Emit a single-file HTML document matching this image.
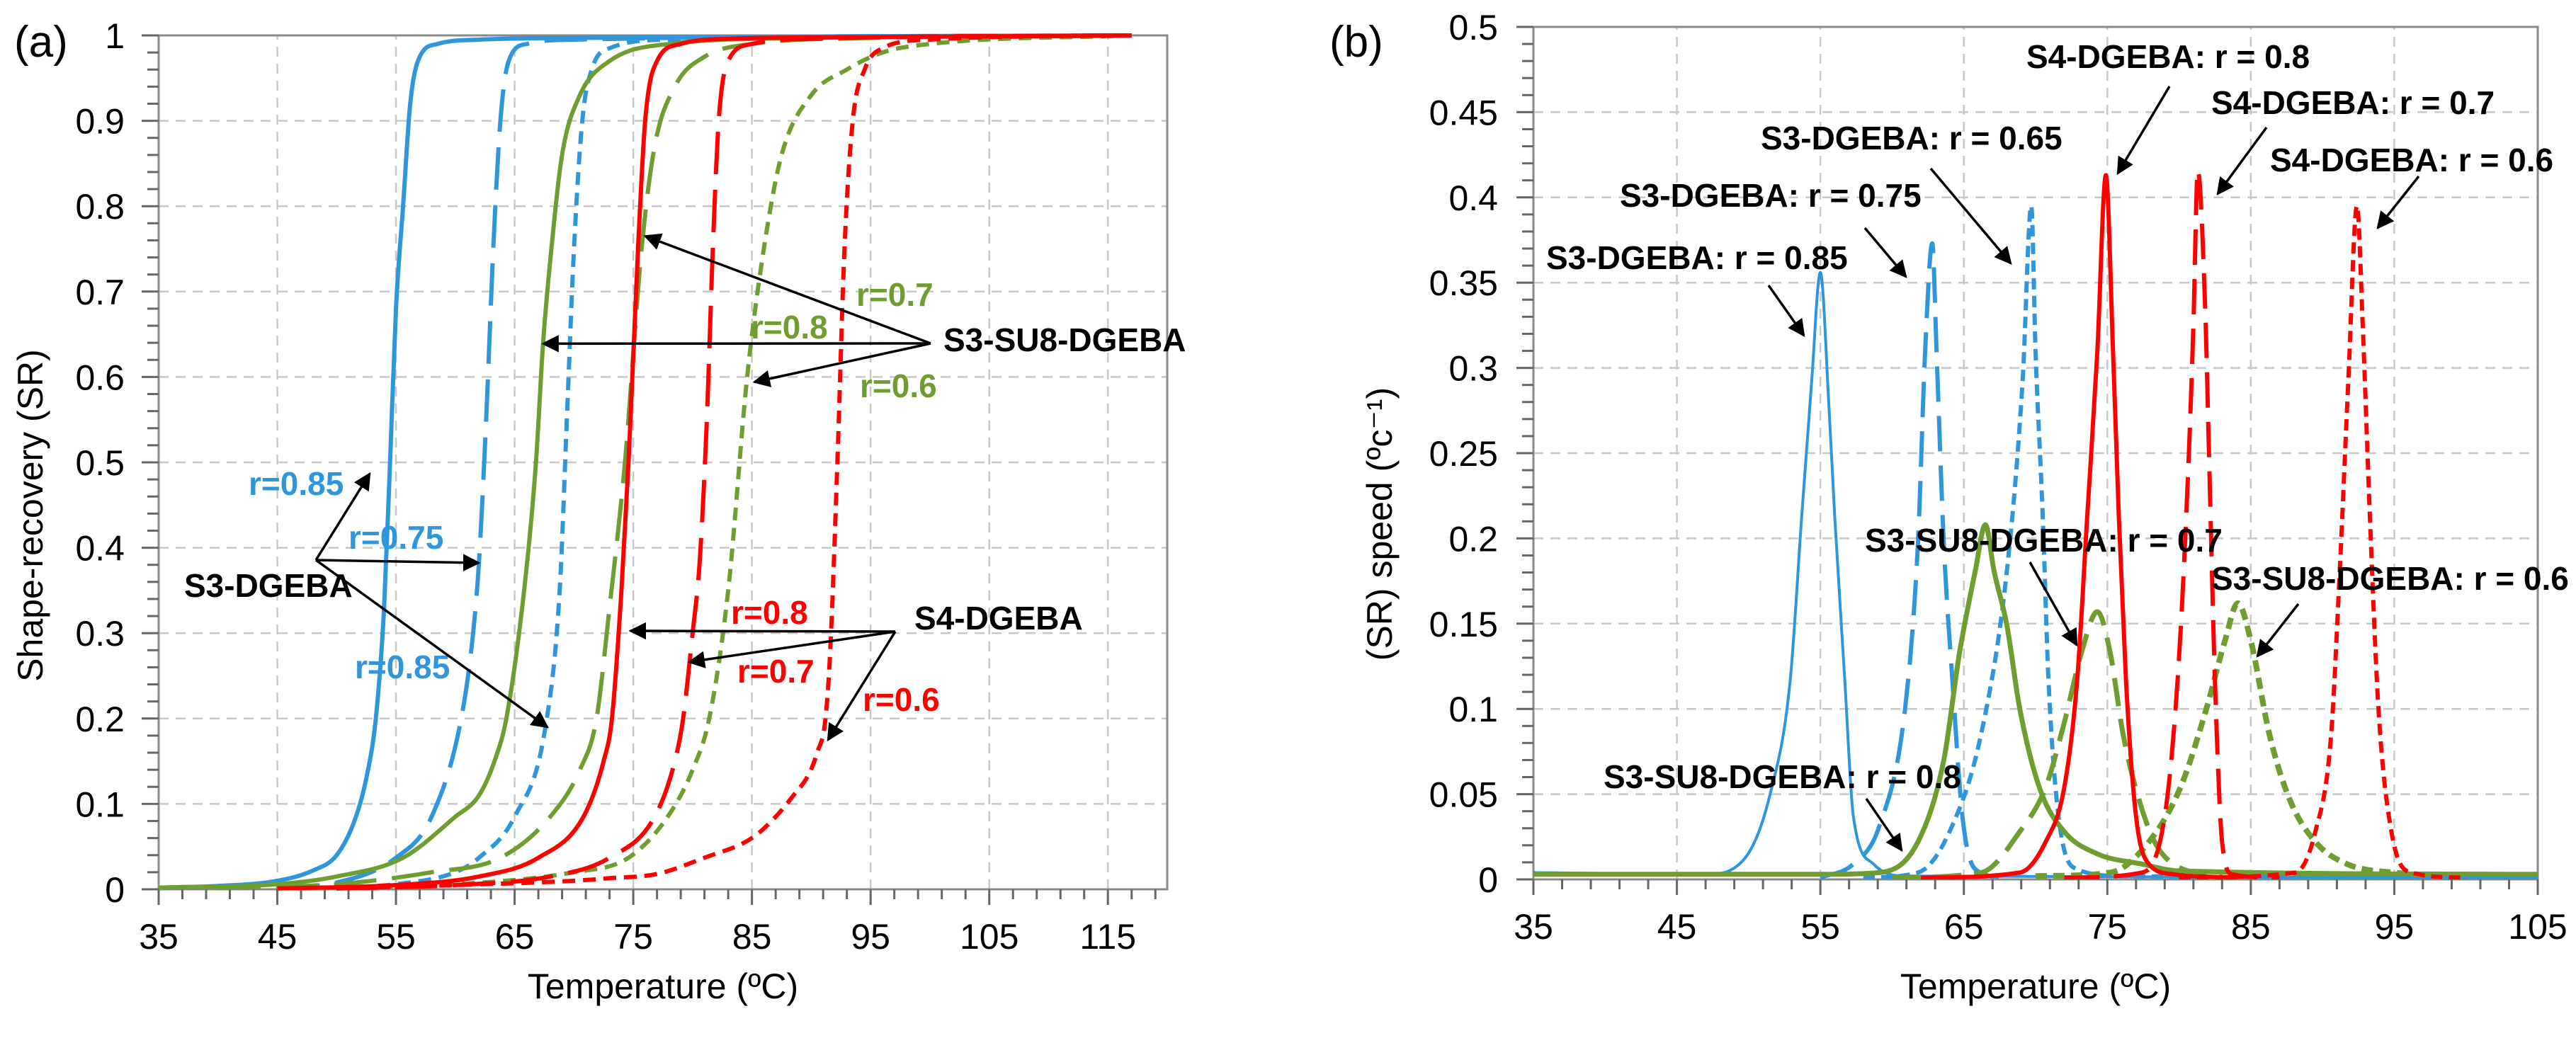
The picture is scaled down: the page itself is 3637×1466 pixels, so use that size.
<!DOCTYPE html>
<html><head><meta charset="utf-8"><style>
html,body{margin:0;padding:0;background:#fff;}
svg{display:block;font-family:"Liberation Sans",sans-serif;}
</style></head><body>
<svg id="fig" width="3637" height="1466" viewBox="0 0 3637 1466" xmlns="http://www.w3.org/2000/svg">
<defs><marker id="ah" viewBox="0 0 10 10" refX="9" refY="5" markerWidth="7" markerHeight="7" orient="auto-start-reverse"><path d="M0,0 L10,5 L0,10 z" fill="#000"/></marker></defs>
<g id="ga"></g>
<g id="gb"></g>
</svg>
<script>
// ---------- data: chart (a) shape recovery ----------
const aXTicks = [35,45,55,65,75,85,95,105,115];
const aYTicks = [0,0.1,0.2,0.3,0.4,0.5,0.6,0.7,0.8,0.9,1];
const aBlueSolidT = [35,40,45,48,50,51.5,52.5,53.3,54,54.5,55,55.6,56.2,57,58.5,62,70,117];
const aBlueSolidV = [0.002,0.004,0.01,0.022,0.04,0.08,0.13,0.2,0.33,0.5,0.68,0.8,0.92,0.975,0.99,0.995,0.997,1];
const aBlueLongT = [45,50,55,58,60.5,61.5,62,62.6,63.2,63.8,64.5,66,70,117];
const aBlueLongV = [0.002,0.008,0.037,0.085,0.2,0.3,0.384,0.55,0.75,0.9,0.97,0.99,0.995,1];
const aBlueShortT = [50,55,60,62,65,67.6,68.8,69.4,70,70.7,71.5,73,78,117];
const aBlueShortV = [0.002,0.006,0.02,0.037,0.085,0.19,0.35,0.55,0.75,0.9,0.96,0.985,0.995,1];
const aGreenSolidT = [35,45,50,55.6,60,62,63.3,64.3,65.8,66.8,67.4,68.1,69,70.5,73,78,90,117];
const aGreenSolidV = [0.002,0.006,0.015,0.037,0.085,0.11,0.15,0.2,0.35,0.5,0.64,0.75,0.86,0.93,0.97,0.99,0.997,1];
const aGreenLongT = [40,50,58,63.8,68,70.5,71.9,73,74.3,75.7,76.8,78.5,81,85,95,117];
const aGreenLongV = [0.002,0.006,0.02,0.037,0.085,0.14,0.2,0.33,0.5,0.75,0.87,0.94,0.975,0.99,0.997,1];
const aRedSolidT = [45,55,62,67,70.8,72.5,73.2,74,74.6,75.4,76,77,79,83,95,117];
const aRedSolidV = [0.001,0.005,0.015,0.037,0.085,0.15,0.2,0.35,0.5,0.75,0.9,0.97,0.99,0.996,0.998,1];
const aRedLongT = [50,60,68,73,76.8,78.5,79.2,80,80.6,81.2,81.7,82.2,83,85,90,117];
const aRedLongV = [0.001,0.005,0.015,0.037,0.085,0.15,0.2,0.3,0.384,0.55,0.75,0.9,0.97,0.99,0.996,1];
const aGreenShortT = [45,60,70,74.6,77.9,80,81.4,83,84.6,86,87.5,90,93,96,100,117];
const aGreenShortV = [0.001,0.006,0.02,0.037,0.085,0.14,0.2,0.35,0.6,0.75,0.86,0.93,0.96,0.98,0.99,1];
const aRedShortT = [50,60,70,73,77,81,85,87,88.5,89.8,90.5,91.2,91.6,92.2,92.8,93.5,94.5,96,100,117];
const aRedShortV = [0.001,0.005,0.01,0.013,0.018,0.037,0.06,0.085,0.11,0.135,0.16,0.2,0.28,0.5,0.75,0.9,0.96,0.985,0.995,1];

// ---------- data: chart (b) SR speed ----------
const bXTicks = [35,45,55,65,75,85,95,105];
const bYTicks = [0,0.05,0.1,0.15,0.2,0.25,0.3,0.35,0.4,0.45,0.5];
const bYTickLabels = ["0","0.05","0.1","0.15","0.2","0.25","0.3","0.35","0.4","0.45","0.5"];
const bBlueSolidT = [35,47,49.7,51.5,52.9,53.7,54.4,55,55.6,56,56.7,57.3,58.7,61,105];
const bBlueSolidV = [0.004,0.003,0.012,0.05,0.117,0.213,0.293,0.356,0.277,0.213,0.117,0.037,0.009,0.002,0.001];
const bBlueLongT = [55,57.3,59.1,60.9,61.8,62.3,62.8,63.1,63.6,64.2,64.9,65.8,68];
const bBlueLongV = [0.001,0.009,0.031,0.1,0.197,0.309,0.373,0.309,0.197,0.117,0.037,0.006,0.001];
const bBlueShortT = [58,61.8,64,66.2,68,69.1,69.7,70,70.5,70.9,71.6,72.9,76,98];
const bBlueShortV = [0.001,0.004,0.028,0.085,0.181,0.293,0.395,0.309,0.213,0.117,0.037,0.006,0.002,0.001];
const bRedSolidT = [62,68.9,70.7,72,72.9,73.6,74.3,74.9,75.4,75.8,76.3,77,77.9,79.6,84];
const bRedSolidV = [0.001,0.004,0.022,0.054,0.117,0.213,0.309,0.413,0.309,0.213,0.117,0.037,0.009,0.003,0.001];
const bRedLongT = [72,77.4,79,79.9,80.5,81,81.3,81.8,82.1,82.5,83,83.7,87];
const bRedLongV = [0.001,0.004,0.037,0.117,0.213,0.325,0.416,0.34,0.245,0.117,0.022,0.003,0.001];
const bRedShortT = [80,88.1,89.5,90.6,91.2,91.8,92.4,92.8,93.3,93.9,94.8,96.2,100];
const bRedShortV = [0.001,0.004,0.028,0.085,0.181,0.293,0.395,0.325,0.213,0.1,0.028,0.004,0.001];
const bGreenSolidT = [35,55,59.1,61.8,63.6,64.7,65.8,66.5,67.1,68,68.9,70.3,72,74.3,77.4,80,105];
const bGreenSolidV = [0.003,0.003,0.004,0.022,0.07,0.133,0.181,0.208,0.181,0.149,0.1,0.053,0.028,0.015,0.009,0.005,0.003];
const bGreenLongT = [60,66.2,68.9,70.7,72,73.2,74.3,75.2,76.1,77.2,78.3,79.6,83];
const bGreenLongV = [0.001,0.004,0.028,0.054,0.092,0.133,0.157,0.133,0.085,0.047,0.022,0.009,0.002];
const bGreenShortT = [70,75.2,77.9,80.1,81.9,83.2,84.1,85,86.3,87.7,89.5,91.7,95,100];
const bGreenShortV = [0.002,0.004,0.022,0.054,0.1,0.14,0.162,0.14,0.085,0.047,0.022,0.009,0.004,0.002];

const BLUE="#2F95DD", GREEN="#6F9E30", RED="#FF0000";
const NS="http://www.w3.org/2000/svg";
function mk(parent,tag,attrs,txt){const e=document.createElementNS(NS,tag);for(const k in attrs)e.setAttribute(k,attrs[k]);if(txt!==undefined)e.textContent=txt;parent.appendChild(e);return e;}
function monoPath(px,py){
  const n=px.length; if(n<2) return "";
  const d=[],m=new Array(n);
  for(let i=0;i<n-1;i++) d.push((py[i+1]-py[i])/(px[i+1]-px[i]));
  m[0]=d[0]; m[n-1]=d[n-2];
  for(let i=1;i<n-1;i++){ m[i]=(d[i-1]*d[i]<=0)?0:(d[i-1]+d[i])/2; }
  for(let i=0;i<n-1;i++){ if(d[i]===0){m[i]=0;m[i+1]=0;continue;} const a=m[i]/d[i],b=m[i+1]/d[i],s=a*a+b*b; if(s>9){const t=3/Math.sqrt(s);m[i]=t*a*d[i];m[i+1]=t*b*d[i];} }
  let s="M"+px[0].toFixed(1)+","+py[0].toFixed(1);
  for(let i=0;i<n-1;i++){const h=(px[i+1]-px[i])/3;
    s+=" C"+(px[i]+h).toFixed(1)+","+(py[i]+m[i]*h).toFixed(1)+" "+(px[i+1]-h).toFixed(1)+","+(py[i+1]-m[i+1]*h).toFixed(1)+" "+px[i+1].toFixed(1)+","+py[i+1].toFixed(1);}
  return s;
}
function axes(g,cfg){
  const {x0,x1,y0,y1,xmin,xmax,ymin,ymax}=cfg;
  const X=v=>x0+(v-xmin)/(xmax-xmin)*(x1-x0);
  const Y=v=>y0-(v-ymin)/(ymax-ymin)*(y0-y1);
  const grid=mk(g,"g",{stroke:"#c8c8c8","stroke-width":2.5,"stroke-dasharray":"14,10"});
  
  
  cfg.xt.forEach(v=>{if(v>xmin&&v<xmax)mk(grid,"line",{x1:X(v),x2:X(v),y1:y0,y2:y1});});
  cfg.yt.forEach(v=>{if(v>ymin)mk(grid,"line",{x1:x0,x2:x1,y1:Y(v),y2:Y(v)});});
  mk(g,"rect",{x:x0,y:y1,width:x1-x0,height:y0-y1,fill:"none",stroke:"#8a8a8a","stroke-width":3});
  const tk=mk(g,"g",{stroke:"#666","stroke-width":3});
  
  
  for(let v=xmin;v<=xmax+1e-9;v+=cfg.xminor){const maj=cfg.xt.some(t=>Math.abs(t-v)<1e-6);mk(tk,"line",{x1:X(v),x2:X(v),y1:y0,y2:y0+(maj?22:14)});}
  for(let v=ymin;v<=ymax+1e-9;v+=cfg.yminor){const maj=cfg.yt.some(t=>Math.abs(t-v)<1e-6);mk(tk,"line",{x1:x0-(maj?24:16),x2:x0,y1:Y(v),y2:Y(v)});}
  const xl=mk(g,"g",{"font-size":50,"text-anchor":"middle",fill:"#000"});
  
  
  cfg.xt.forEach(v=>mk(xl,"text",{x:X(v),y:y0+84},String(v)));
  const yl=mk(g,"g",{"font-size":50,"text-anchor":"end",fill:"#000"});
  
  
  cfg.yt.forEach((v,i)=>mk(yl,"text",{x:cfg.ylabX,y:Y(v)+18},cfg.ytl?cfg.ytl[i]:String(v)));
  return {X,Y};
}
function series(g,sc,T,V,color,dash,name,clip,w){
  const px=T.map(sc.X), py=V.map(sc.Y);
  const p=mk(g,"path",{d:monoPath(px,py),fill:"none",stroke:color,"stroke-width":w||6,"stroke-dasharray":dash||"none","stroke-linejoin":"round","clip-path":"url(#"+clip+")"});
  
  
}
function txt(g,x,y,s,color,name,size,bold,anchor){
  const t=mk(g,"text",{x:x,y:y,fill:color,"font-size":size||46,"font-weight":bold?"bold":"normal","text-anchor":anchor||"start"},s);
  
  
  return t;
}
function arrow(g,x1,y1,x2,y2,name){
  const l=mk(g,"line",{x1:x1,y1:y1,x2:x2,y2:y2,stroke:"#000","stroke-width":3.5,"marker-end":"url(#ah)"});
  
  
}
const svg=document.getElementById("fig");
const defs=svg.querySelector("defs");
// ---------- chart a ----------
const ga=document.getElementById("ga");
const A={x0:224,x1:1648,y0:1256,y1:50,xmin:35,xmax:120,ymin:0,ymax:1,xt:aXTicks,yt:aYTicks,xminor:2,yminor:0.02,ylabX:176};
const cpa=mk(defs,"clipPath",{id:"cpa"});mk(cpa,"rect",{x:A.x0,y:A.y1-6,width:A.x1-A.x0,height:A.y0-A.y1+8});
const sa=axes(ga,A);
const LD="60,22", SD="18,11";
series(ga,sa,aBlueSolidT,aBlueSolidV,BLUE,null,"s3-dgeba-r085-curve","cpa");
series(ga,sa,aBlueLongT,aBlueLongV,BLUE,LD,"s3-dgeba-r075-curve","cpa");
series(ga,sa,aBlueShortT,aBlueShortV,BLUE,SD,"s3-dgeba-r065-curve","cpa");
series(ga,sa,aGreenSolidT,aGreenSolidV,GREEN,null,"s3-su8-dgeba-r08-curve","cpa");
series(ga,sa,aGreenLongT,aGreenLongV,GREEN,LD,"s3-su8-dgeba-r07-curve","cpa");
series(ga,sa,aGreenShortT,aGreenShortV,GREEN,SD,"s3-su8-dgeba-r06-curve","cpa");
series(ga,sa,aRedSolidT,aRedSolidV,RED,null,"s4-dgeba-r08-curve","cpa");
series(ga,sa,aRedLongT,aRedLongV,RED,LD,"s4-dgeba-r07-curve","cpa");
series(ga,sa,aRedShortT,aRedShortV,RED,SD,"s4-dgeba-r06-curve","cpa");
txt(ga,20,80,"(a)","#000","panel-label-a",62);
txt(ga,936,1410,"Temperature (ºC)","#000","x-axis-title-a",50,false,"middle");
const yt=txt(ga,0,0,"Shape-recovery (SR)","#000","y-axis-title-a",50,false,"middle");
yt.setAttribute("transform","translate(60,728) rotate(-90)");
// annotations a
txt(ga,1209,432,"r=0.7",GREEN,"label-green-r07",46,true);
txt(ga,1060,478,"r=0.8",GREEN,"label-green-r08",46,true);
txt(ga,1214,561,"r=0.6",GREEN,"label-green-r06",46,true);
txt(ga,1332,496,"S3-SU8-DGEBA","#000","label-s3-su8-dgeba",46,true);
arrow(ga,1314,485,sa.X(76),sa.Y(0.765),"arrow-su8-r07");
arrow(ga,1314,485,sa.X(67.4),sa.Y(0.639),"arrow-su8-r08");
arrow(ga,1314,485,sa.X(85.2),sa.Y(0.594),"arrow-su8-r06");
txt(ga,351,699,"r=0.85",BLUE,"label-blue-r085-top",46,true);
txt(ga,492,775,"r=0.75",BLUE,"label-blue-r075",46,true);
txt(ga,501,958,"r=0.85",BLUE,"label-blue-r085-bottom",46,true);
txt(ga,260,843,"S3-DGEBA","#000","label-s3-dgeba",46,true);
arrow(ga,446,791,522,669,"arrow-s3-r085");
arrow(ga,446,791,676,795,"arrow-s3-r075");
arrow(ga,446,791,773,1027,"arrow-s3-r065");
txt(ga,1291,889,"S4-DGEBA","#000","label-s4-dgeba",46,true);
txt(ga,1032,881,"r=0.8",RED,"label-red-r08",46,true);
txt(ga,1041,964,"r=0.7",RED,"label-red-r07",46,true);
txt(ga,1218,1004,"r=0.6",RED,"label-red-r06",46,true);
arrow(ga,1264,892,890,891,"arrow-s4-r08");
arrow(ga,1264,892,973,935,"arrow-s4-r07");
arrow(ga,1264,892,1169,1045,"arrow-s4-r06");

// ---------- chart b ----------
const gb=document.getElementById("gb");
const B={x0:2165,x1:3583,y0:1242,y1:38,xmin:35,xmax:105,ymin:0,ymax:0.5,xt:bXTicks,yt:bYTicks,ytl:bYTickLabels,xminor:2,yminor:0.01,ylabX:2115};
const cpb=mk(defs,"clipPath",{id:"cpb"});mk(cpb,"rect",{x:B.x0,y:B.y1,width:B.x1-B.x0,height:B.y0-B.y1});
const sb=axes(gb,B);
series(gb,sb,bBlueSolidT,bBlueSolidV,BLUE,null,"speed-s3-dgeba-r085","cpb",4);
series(gb,sb,bBlueLongT,bBlueLongV,BLUE,"50,20","speed-s3-dgeba-r075","cpb",6);
series(gb,sb,bBlueShortT,bBlueShortV,BLUE,"16,9","speed-s3-dgeba-r065","cpb",6);
series(gb,sb,bGreenSolidT,bGreenSolidV,GREEN,null,"speed-s3-su8-dgeba-r08","cpb",7);
series(gb,sb,bGreenLongT,bGreenLongV,GREEN,"40,18","speed-s3-su8-dgeba-r07","cpb",7);
series(gb,sb,bGreenShortT,bGreenShortV,GREEN,"16,9","speed-s3-su8-dgeba-r06","cpb",8);
series(gb,sb,bRedSolidT,bRedSolidV,RED,null,"speed-s4-dgeba-r08","cpb",6);
series(gb,sb,bRedLongT,bRedLongV,RED,"50,20","speed-s4-dgeba-r07","cpb",6);
series(gb,sb,bRedShortT,bRedShortV,RED,"16,9","speed-s4-dgeba-r06","cpb",6);
txt(gb,1877,80,"(b)","#000","panel-label-b",62);
txt(gb,2874,1410,"Temperature (ºC)","#000","x-axis-title-b",50,false,"middle");
const yt2=txt(gb,0,0,"(SR) speed (ºc⁻¹)","#000","y-axis-title-b",50,false,"middle");
yt2.setAttribute("transform","translate(1965,740) rotate(-90)");
txt(gb,2861,96,"S4-DGEBA: r = 0.8","#000","label-speed-s4-r08",46,true);
arrow(gb,3063,122,2990,245,"arrow-speed-s4-r08");
txt(gb,3122,161,"S4-DGEBA: r = 0.7","#000","label-speed-s4-r07",46,true);
arrow(gb,3200,180,3131,274,"arrow-speed-s4-r07");
txt(gb,3205,242,"S4-DGEBA: r = 0.6","#000","label-speed-s4-r06",46,true);
arrow(gb,3415,249,3357,322,"arrow-speed-s4-r06");
txt(gb,2486,211,"S3-DGEBA: r = 0.65","#000","label-speed-s3-r065",46,true);
arrow(gb,2726,238,2839,372,"arrow-speed-s3-r065");
txt(gb,2287,292,"S3-DGEBA: r = 0.75","#000","label-speed-s3-r075",46,true);
arrow(gb,2633,322,2691,391,"arrow-speed-s3-r075");
txt(gb,2183,380,"S3-DGEBA: r = 0.85","#000","label-speed-s3-r085",46,true);
arrow(gb,2497,403,2547,474,"arrow-speed-s3-r085");
txt(gb,2633,779,"S3-SU8-DGEBA: r = 0.7","#000","label-speed-su8-r07",46,true);
arrow(gb,2866,794,2932,911,"arrow-speed-su8-r07");
txt(gb,3122,833,"S3-SU8-DGEBA: r = 0.6","#000","label-speed-su8-r06",46,true);
arrow(gb,3245,853,3187,927,"arrow-speed-su8-r06");
txt(gb,2264,1113,"S3-SU8-DGEBA: r = 0.8","#000","label-speed-su8-r08",46,true);
arrow(gb,2635,1128,2685,1201,"arrow-speed-su8-r08");
</script>
</body></html>
